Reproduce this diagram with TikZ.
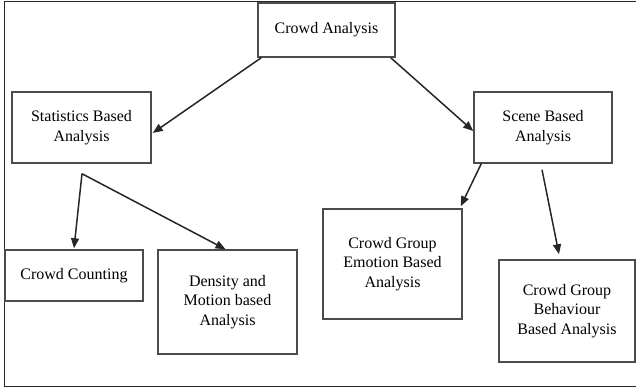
\documentclass[tikz,border=0pt]{standalone}
\usepackage{fontspec}
\setmainfont{Liberation Serif}
\usetikzlibrary{arrows.meta,calc}
\begin{document}
\begin{tikzpicture}[x=1pt,y=-1pt,
  box/.style={draw=black!70, line width=1.5pt, fill=white, align=center,
    inner sep=0pt, font=\fontsize{16}{19.5}\selectfont},
  link/.style={draw=black!85, line width=1.5pt,
    -{Triangle[length=10pt,width=8pt]}}]
\useasboundingbox (0,0) rectangle (636,387);
% outer frame (open on the right)
\draw[line width=1pt, black!85] (640,2) -- (4,2) -- (4,386) -- (640,386);

% boxes
\node[box, minimum width=137pt, minimum height=54pt] (ca) at (326.5,30) {Crowd Analysis};
\node[box, minimum width=139pt, minimum height=71pt] (sb) at (81.5,127.5) {Statistics Based\\Analysis};
\node[box, minimum width=138pt, minimum height=71pt] (sc) at (543,127.5) {Scene Based\\Analysis};
\node[box, minimum width=138pt, minimum height=51pt] (cc) at (74,275.5) {Crowd Counting};
\node[box, minimum width=139pt, minimum height=104pt] (dm) at (227.5,302) {Density and\\Motion based\\Analysis};
\node[box, minimum width=139pt, minimum height=110pt] (em) at (392.5,264) {Crowd Group\\Emotion Based\\Analysis};
\node[box, minimum width=136pt, minimum height=102pt] (bh) at (567,311) {Crowd Group\\Behaviour\\Based Analysis};

% branching point under the statistics box
\coordinate (fork) at ($(sb.south)+(0.5,10)$);

% connectors
\draw[link] ($(ca.south west)+(4,0)$) -- ($(sb.east)+(1,5.5)$);
\draw[link] ($(ca.south east)+(-5,0)$) -- ($(sc.west)+(0,3.5)$);
\draw[link] (fork) -- ($(cc.north)+(0,-1)$);
\draw[link] (fork) -- ($(dm.north)+(-2,0)$);
\draw[link] ($(sc.south west)+(8,0)$) -- ($(em.north east)+(-2,-2)$);
\draw[link] ($(sc.south)+(-1,6)$) -- ($(bh.north)+(-8,-5)$);
\end{tikzpicture}
\end{document}
